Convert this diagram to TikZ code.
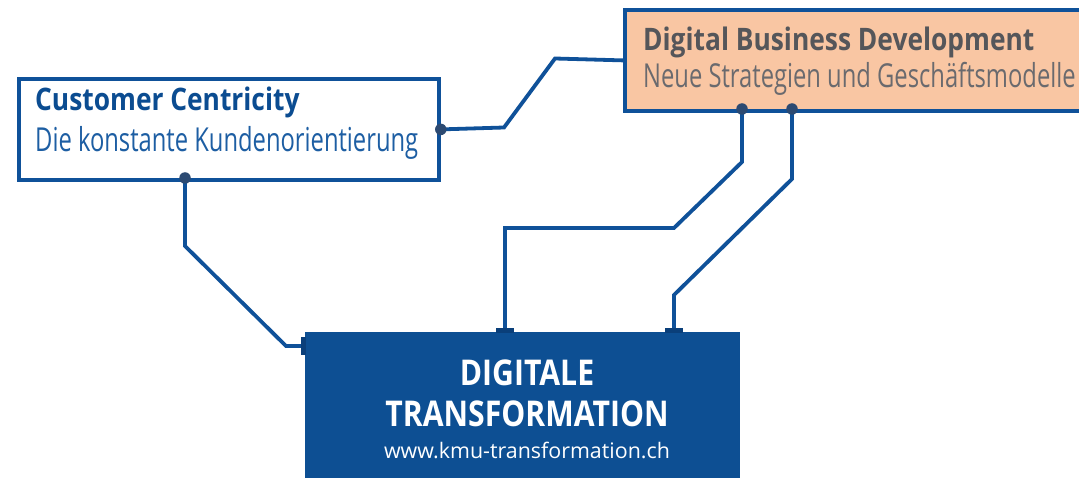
\documentclass[tikz,border=0pt]{standalone}
\usepackage{fontspec}
\setmainfont{Open Sans}
\newfontfamily\condfont{Open Sans}[FakeStretch=0.85]
\newfontfamily\lightcond{Open Sans}[FakeStretch=0.72]
\definecolor{lineblue}{HTML}{0F5199}
\definecolor{dtblue}{HTML}{0D4F93}
\definecolor{tabblue}{HTML}{0A3F7A}
\definecolor{dotcol}{HTML}{2C4A72}
\definecolor{peach}{HTML}{F9C6A3}
\definecolor{graytitle}{HTML}{55565A}
\definecolor{graysub}{HTML}{6A6A6E}
\definecolor{ccblue}{HTML}{0B4C91}
\definecolor{ccsub}{HTML}{1D5EA3}
\begin{document}
\begin{tikzpicture}[x=1pt,y=-1pt,
  boxframe/.style={draw=lineblue, line width=3.8pt, rectangle, inner sep=0pt, anchor=north west},
  conn/.style={draw=lineblue, line width=3.8pt, line join=miter},
  dot/.style={fill=dotcol, circle, inner sep=0pt, minimum size=11.5pt},
  tab/.style={fill=tabblue, draw=none},
  txt/.style={anchor=base west, inner sep=0pt},
  ctxt/.style={anchor=base, inner sep=0pt},
  titlefont/.style={font=\condfont\bfseries\fontsize{31}{31}\selectfont},
  subfont/.style={font=\lightcond\fontsize{33}{33}\selectfont},
  dtfont/.style={font=\condfont\bfseries\fontsize{35.5}{35.5}\selectfont, text=white},
]
\useasboundingbox (0,0) rectangle (1079,478);
\clip (0,0) rectangle (1079,478);
\fill[white] (0,0) rectangle (1079,478);

% boxes
\node[boxframe, minimum width=420pt, minimum height=101pt] (cc) at (17,77) {};
\node[boxframe, fill=peach, minimum width=480pt, minimum height=101pt] (dbd) at (623,8) {};
\node[rectangle, fill=dtblue, inner sep=0pt, anchor=north west, minimum width=435pt, minimum height=170pt] (dt) at (305,332) {};

% texts
\node[txt, titlefont, text=ccblue] (cct) at (35,111) {Customer Centricity};
\node[txt, subfont, text=ccsub] (ccs) at (35,152) {Die konstante Kundenorientierung};
\node[txt, titlefont, text=graytitle] (dbdt) at (643,51) {Digital Business Development};
\node[txt, subfont, text=graysub] (dbds) at (643,88) {Neue Strategien und Geschäftsmodelle};
\node[ctxt, dtfont] (dt1) at (527,385) {DIGITALE};
\node[ctxt, dtfont] (dt2) at (527,426) {TRANSFORMATION};
\node[ctxt, font=\fontsize{21.4}{21.4}\selectfont, text=white] (dt3) at (527,458) {www.kmu-transformation.ch};

% connection points
\coordinate (ccR) at (cc.east);
\coordinate (ccB) at (185,178);
\coordinate (dbdB1) at (742,109);
\coordinate (dbdB2) at (792,109);
\coordinate (dtL) at (303,346);
\coordinate (dtT1) at (505,330);
\coordinate (dtT2) at (674,330);

% connectors
\draw[conn] (ccR) -- (504,127.5) -- (555,58.5) -- (dbd.west);
\draw[conn] (ccB) -- (185,246) -- (286,346) -- (dtL);
\draw[conn] (dbdB1) -- (742,162) -- (674,228) -- (505,228) -- (dtT1);
\draw[conn] (dbdB2) -- (792,179) -- (674,295) -- (dtT2);

% tabs
\fill[tab] (301,337) rectangle (306,355);
\fill[tab] (496,328) rectangle (514,333);
\fill[tab] (665,328) rectangle (683,333);

% dots
\node[dot] (d1) at (ccR) {};
\node[dot] (d2) at (ccB) {};
\node[dot] (d3) at (dbdB1) {};
\node[dot] (d4) at (dbdB2) {};
\end{tikzpicture}
\end{document}
